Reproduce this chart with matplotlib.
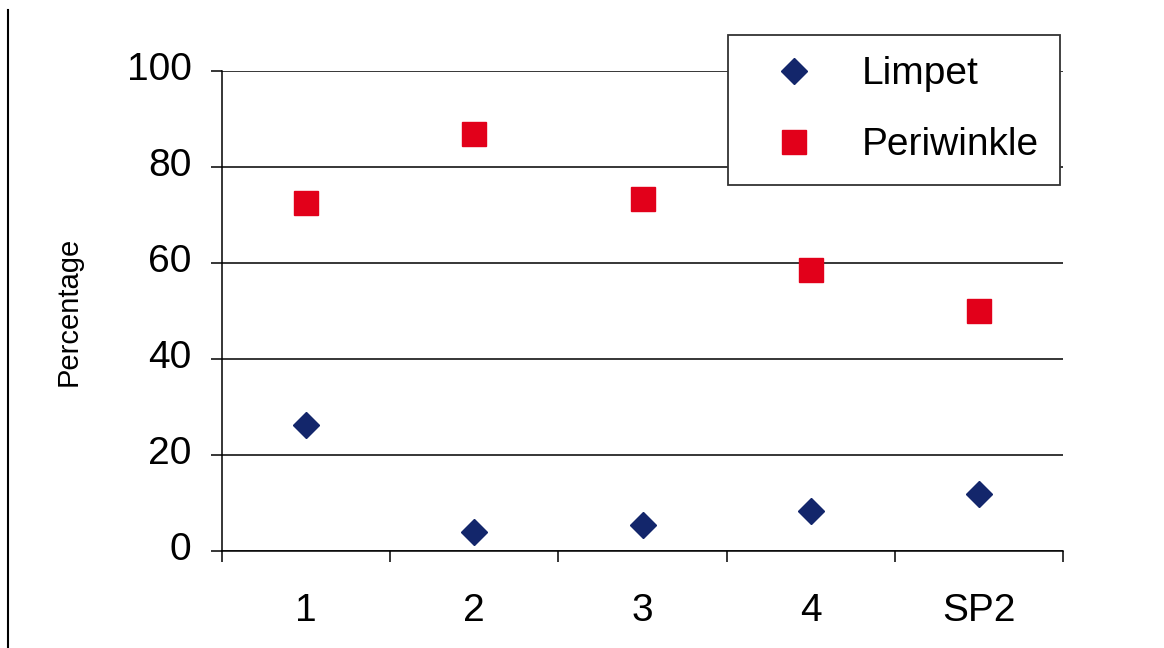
import matplotlib
matplotlib.use("Agg")
import matplotlib.pyplot as plt
from matplotlib.lines import Line2D
from matplotlib.transforms import ScaledTranslation

# --- data ---
categories = ["1", "2", "3", "4", "SP2"]
limpet = [26.2, 4.0, 5.4, 8.4, 11.9]
periwinkle = [72.4, 86.9, 73.3, 58.5, 50.0]
y_ticks = [0, 20, 40, 60, 80, 100]

plt.rcParams['font.family'] = ['Liberation Sans', 'DejaVu Sans']

fig = plt.figure(figsize=(11.64, 6.48), dpi=100)
ax = fig.add_axes([222/1164, 1 - 551/648, (1063-222)/1164, (551-71)/648])

xs = list(range(1, len(categories) + 1))
ax.plot(xs, limpet, linestyle="none", marker="D", markersize=13,
        color="#13266B", label="Limpet", zorder=3)
ax.plot(xs, periwinkle, linestyle="none", marker="s", markersize=17,
        color="#E2001A", label="Periwinkle", zorder=3)

ax.set_xlim(0.5, len(categories) + 0.5)
ax.set_ylim(0, 100)

# boundaries get the tick marks, centres get the labels
ax.set_xticks([x - 0.5 for x in xs] + [len(categories) + 0.5])
ax.set_xticklabels([])
ax.set_xticks(xs, minor=True)
ax.set_xticklabels(categories, minor=True)
ax.tick_params(axis="x", which="major", length=8, width=1.1, color="black")
ax.tick_params(axis="x", which="minor", length=0, pad=30, labelsize=28)

ax.set_yticks(y_ticks)
ax.tick_params(axis="y", length=8, width=1.1, pad=14, labelsize=28)
# labels sit a little above their gridlines in the original
for lbl in ax.get_yticklabels():
    lbl.set_transform(lbl.get_transform() + ScaledTranslation(0, 0.05, fig.dpi_scale_trans))

ax.yaxis.grid(True, color="black", linewidth=1.1)
ax.set_axisbelow(True)
for side in ["top", "right"]:
    ax.spines[side].set_visible(False)
for side in ["left", "bottom"]:
    ax.spines[side].set_linewidth(1.1)

ax.set_ylabel("Percentage", fontsize=21)
ax.yaxis.set_label_coords(-0.166, 0.5)

leg = ax.legend(loc="upper left", bbox_to_anchor=(728/1164, 1 - 35/648),
                bbox_transform=fig.transFigure, borderaxespad=0,
                fontsize=28, frameon=True, fancybox=False, borderpad=0.55,
                labelspacing=0.9, handlelength=2.3, handletextpad=0.58,
                numpoints=1)
leg.get_frame().set_edgecolor("#333333")
leg.get_frame().set_linewidth(1.3)
leg.get_frame().set_facecolor("white")
leg.get_frame().set_alpha(1)

# thin rule at the left edge of the picture
fig.add_artist(Line2D([8/1164, 8/1164], [0, 1 - 10/648],
                      transform=fig.transFigure, color="black", linewidth=1.5))

fig.savefig("out.png", dpi=100)
